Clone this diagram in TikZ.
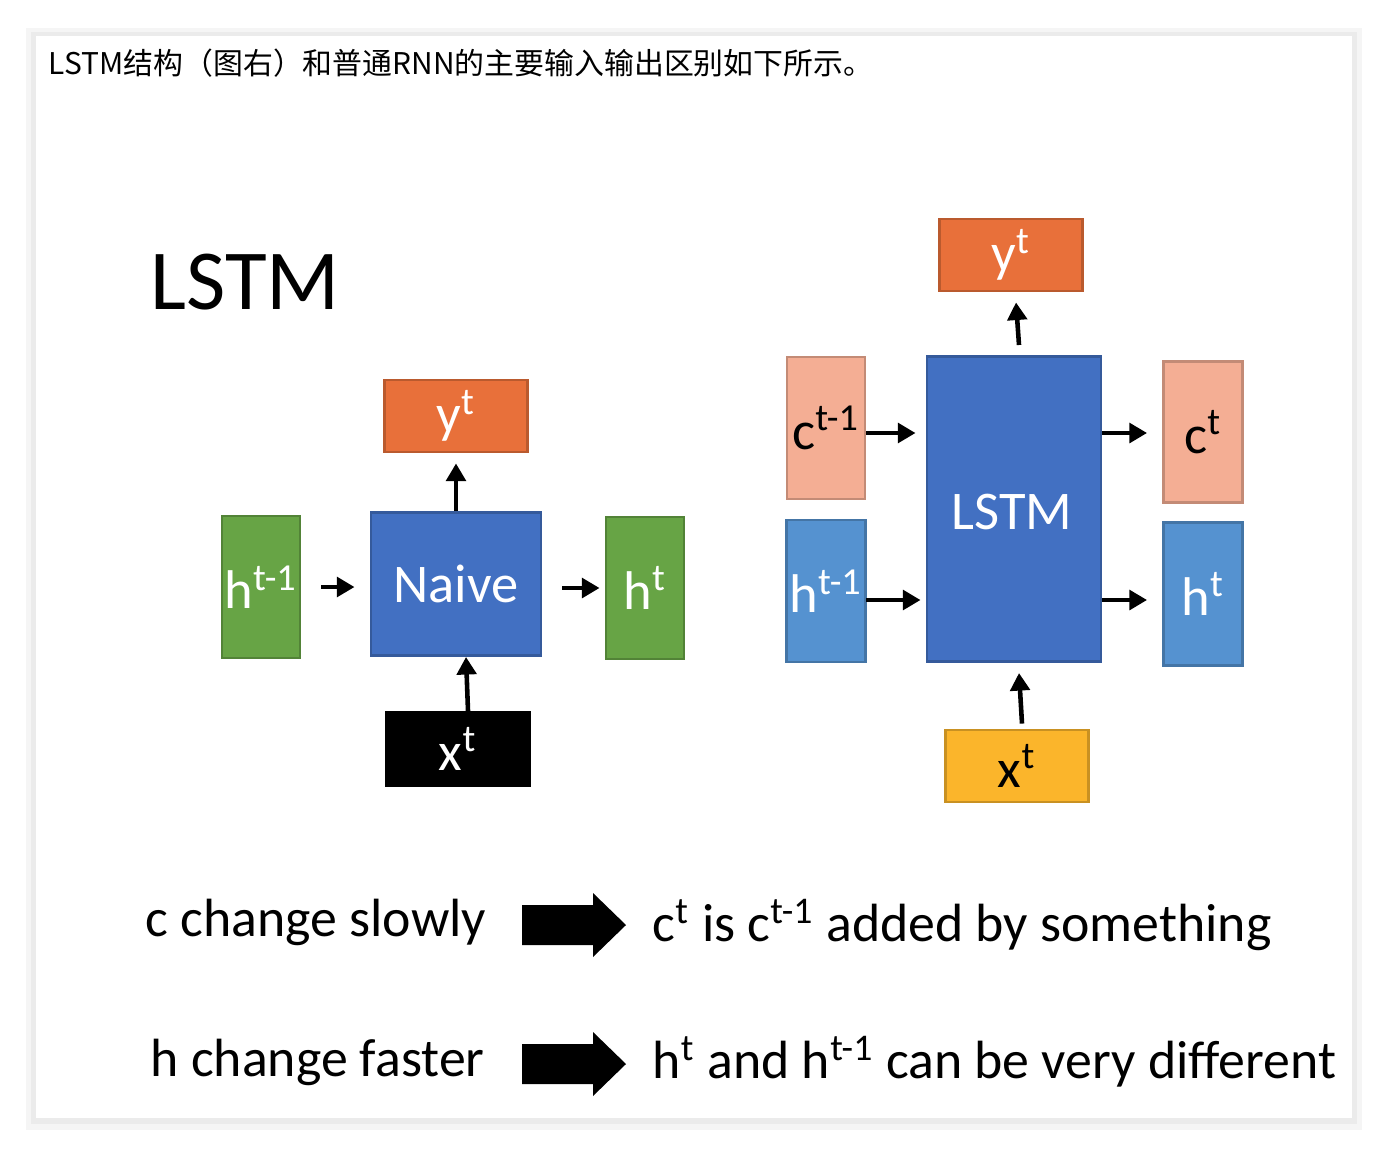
\documentclass[tikz,border=0pt]{standalone}
\usepackage{fontspec}
\setmainfont{Carlito}
\newfontfamily\cjk{Noto Sans CJK SC}
\usetikzlibrary{arrows.meta}
\definecolor{boxorange}{HTML}{E8703A}
\definecolor{boxblue}{HTML}{4270C2}
\definecolor{boxgreen}{HTML}{67A445}
\definecolor{boxsalmon}{HTML}{F4AE94}
\definecolor{boxsky}{HTML}{5592D0}
\definecolor{boxyellow}{HTML}{FBB52B}
\tikzset{
	cell/.style={draw=#1!80!black, fill=#1, thick, inner sep=0pt, font=\fontsize{15.5}{15.5}\selectfont, text=white},
	flow/.style={draw=black, line width=1.3pt, -{Triangle[length=5pt,width=5.5pt]}},
	bigarrow/.style={fill=black},
	say/.style={anchor=west, inner sep=0pt, font=\fontsize{15.3}{15.3}\selectfont}
}
\begin{document}
\begin{tikzpicture}[x=0.01cm, y=-0.01cm]
	\useasboundingbox (0,0) rectangle (1388,1154);
	% card
	\fill[black!4] (26,28) rectangle (1362,1130);
	\fill[black!8] (31,32) rectangle (1357,1124);
	\fill[white] (36,36) rectangle (1352,1118);
	\node[anchor=west, inner sep=0pt, font=\cjk\fontsize{8.5}{8.5}\selectfont] (caption) at (48,63) {LSTM结构（图右）和普通RNN的主要输入输出区别如下所示。};
	\node[anchor=west, inner sep=0pt, font=\fontsize{24.3}{24.3}\selectfont] (title) at (150,282) {LSTM};
	% naive cell
	\node[cell=boxblue, minimum width=1.70cm, minimum height=1.43cm] (naive) at (456,584) {Naive};
	\node[cell=boxorange, minimum width=1.43cm, minimum height=0.72cm] (ya) at (456,416) {y\textsuperscript{t}};
	\node[cell=boxgreen, minimum width=0.78cm, minimum height=1.42cm] (hpa) at (261,587) {h\textsuperscript{t-1}};
	\node[cell=boxgreen, minimum width=0.78cm, minimum height=1.42cm] (hna) at (645,588) {h\textsuperscript{t}};
	\node[cell=black, minimum width=1.44cm, minimum height=0.73cm] (xa) at (458,749) {x\textsuperscript{t}};
	\draw[flow] ([xshift=2mm]hpa.east) -- ([xshift=-1.5mm]naive.west |- hpa.east);
	\draw[flow] ([xshift=2mm]naive.east |- hna.west) -- ([xshift=-0.5mm]hna.west);
	\draw[flow] (naive.north) -- ([yshift=-1mm]ya.south);
	\draw[flow] ([xshift=1mm]xa.north) -- ([xshift=1mm]naive.south);
	% lstm cell
	\node[cell=boxblue, minimum width=1.74cm, minimum height=3.05cm] (lstm) at (1014,509) {};
	\node[text=white, font=\fontsize{15.5}{15.5}\selectfont] (lstmlabel) at (1012,512) {LSTM};
	\node[cell=boxorange, minimum width=1.43cm, minimum height=0.72cm] (yb) at (1011,255) {y\textsuperscript{t}};
	\node[cell=boxsalmon, text=black, minimum width=0.78cm, minimum height=1.42cm] (cpb) at (826,428) {c\textsuperscript{t-1}};
	\node[cell=boxsky, minimum width=0.79cm, minimum height=1.42cm] (hpb) at (826,591) {h\textsuperscript{t-1}};
	\node[cell=boxsalmon, text=black, minimum width=0.79cm, minimum height=1.41cm] (cnb) at (1203,432) {c\textsuperscript{t}};
	\node[cell=boxsky, minimum width=0.79cm, minimum height=1.43cm] (hnb) at (1203,594) {h\textsuperscript{t}};
	\node[cell=boxyellow, text=black, minimum width=1.43cm, minimum height=0.72cm] (xb) at (1017,766) {x\textsuperscript{t}};
	\coordinate (cin) at (866,433);
	\coordinate (hin) at (866,600);
	\draw[flow] (cin) -- ([xshift=-1mm]lstm.west |- cin);
	\draw[flow] (hin) -- ([xshift=-0.5mm]lstm.west |- hin);
	\draw[flow] (lstm.east |- cin) -- ([xshift=-1.5mm]cnb.west |- cin);
	\draw[flow] (lstm.east |- hin) -- ([xshift=-1.5mm]hnb.west |- hin);
	\draw[flow] ([xshift=0.5mm,yshift=1mm]lstm.north) -- ([xshift=0.5mm,yshift=-1mm]yb.south);
	\draw[flow] ([xshift=0.5mm,yshift=0.5mm]xb.north) -- ([xshift=0.5mm,yshift=-1mm]lstm.south);
	% notes
	\node[say] (slow) at (145,922) {c change slowly};
	\node[say] (slowtext) at (652,925) {c\textsuperscript{t} is c\textsuperscript{t-1} added by something};
	\node[say] (fast) at (150,1062) {h change faster};
	\node[say] (fasttext) at (652,1062) {h\textsuperscript{t} and h\textsuperscript{t-1} can be very different};
	\foreach \y in {925,1064}
		\fill[bigarrow] (522,\y-20) -- (593,\y-20) -- (593,\y-32) -- (626,\y) -- (593,\y+32) -- (593,\y+20) -- (522,\y+20) -- cycle;
\end{tikzpicture}
\end{document}
